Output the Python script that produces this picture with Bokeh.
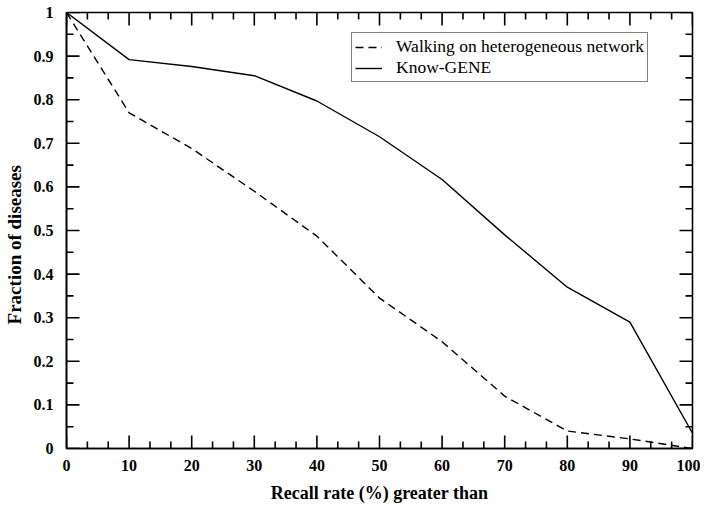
import numpy as np
from bokeh.plotting import figure
from bokeh.models import (LinearAxis, SingleIntervalTicker, Range1d, Legend, LegendItem,
                          CustomJSTickFormatter)
from bokeh.embed import file_html
from bokeh.resources import INLINE

recall = [0, 10, 20, 30, 40, 50, 60, 70, 80, 90, 100]
walking = [1.0, 0.77, 0.688, 0.59, 0.487, 0.345, 0.245, 0.12, 0.04, 0.022, 0.0]
know_gene = [1.0, 0.892, 0.876, 0.855, 0.797, 0.715, 0.617, 0.49, 0.37, 0.29, 0.035]
series_names = ["Walking on heterogeneous network", "Know-GENE"]
x_label = "Recall rate (%) greater than"
y_label = "Fraction of diseases"

X_MIN, X_MAX, X_STEP, X_MINOR = 0, 100, 10, 3
Y_MIN, Y_MAX, Y_STEP, Y_MINOR = 0.0, 1.0, 0.1, 2

FONT = "Liberation Serif"

p = figure(width=700, height=508, output_backend="svg", toolbar_location=None,
           x_range=Range1d(X_MIN, X_MAX), y_range=Range1d(Y_MIN, Y_MAX),
           min_border_left=66, min_border_right=8, min_border_top=12, min_border_bottom=60,
           x_axis_type=None, y_axis_type=None)
p.xgrid.visible = False
p.ygrid.visible = False
p.outline_line_color = "black"
p.outline_line_width = 1.6
p.background_fill_color = "white"
p.border_fill_color = "white"

def style(ax):
    ax.axis_line_width = 1.6
    ax.axis_line_color = "black"
    ax.major_tick_in = 0
    ax.major_tick_out = 0
    ax.minor_tick_in = 0
    ax.minor_tick_out = 0
    ax.major_label_text_font = FONT
    ax.major_label_text_font_style = "bold"
    ax.major_label_text_font_size = "16px"
    ax.major_label_text_color = "black"
    ax.axis_label_text_font = FONT
    ax.axis_label_text_font_style = "bold"
    ax.axis_label_text_color = "black"

xb = LinearAxis(ticker=SingleIntervalTicker(interval=X_STEP, num_minor_ticks=X_MINOR),
                axis_label=x_label)
style(xb)
xb.axis_label_text_font_size = "18px"
xb.major_label_standoff = 11
xb.axis_label_standoff = 9
p.add_layout(xb, "below")

yl = LinearAxis(ticker=SingleIntervalTicker(interval=Y_STEP, num_minor_ticks=Y_MINOR),
                axis_label=y_label + "\u00a0" * 6)
style(yl)
yl.axis_label_text_font_size = "19px"
yl.major_label_standoff = 13
yl.axis_label_standoff = 6
yl.formatter = CustomJSTickFormatter(code="return (Math.round(tick*10)/10).toString();")
p.add_layout(yl, "left")

# inward ticks on all four sides, drawn as screen-length rays from the frame edges
x_major = np.arange(X_MIN, X_MAX + X_STEP / 2, X_STEP)
x_all = np.arange(X_MIN, X_MAX + 1e-9, X_STEP / X_MINOR)
x_minor = np.array([v for v in x_all if not np.isclose(v / X_STEP, round(v / X_STEP))])
y_major = np.arange(Y_MIN, Y_MAX + Y_STEP / 2, Y_STEP)
y_minor = y_major[:-1] + Y_STEP / Y_MINOR

TICK_W = 1.6
for xs, ln in ((x_major, 13), (x_minor, 7)):
    p.ray(xs, [Y_MIN] * len(xs), length=ln, angle=np.pi / 2, length_units="screen",
          line_color="black", line_width=TICK_W)
    p.ray(xs, [Y_MAX] * len(xs), length=ln, angle=-np.pi / 2, length_units="screen",
          line_color="black", line_width=TICK_W)
for ys, ln in ((y_major, 13), (y_minor, 7)):
    p.ray([X_MIN] * len(ys), ys, length=ln, angle=0, length_units="screen",
          line_color="black", line_width=TICK_W)
    p.ray([X_MAX] * len(ys), ys, length=ln, angle=np.pi, length_units="screen",
          line_color="black", line_width=TICK_W)

r1 = p.line(recall, walking, line_color="black", line_width=1.4, line_dash="8 5")
r2 = p.line(recall, know_gene, line_color="black", line_width=1.4)

legend = Legend(items=[LegendItem(label=series_names[0], renderers=[r1]),
                       LegendItem(label=series_names[1], renderers=[r2])],
                location=(285, 366))
legend.label_text_font = FONT
legend.label_text_font_size = "17.5px"
legend.label_text_color = "black"
legend.border_line_color = "black"
legend.border_line_width = 1
legend.glyph_width = 27
legend.glyph_height = 14
legend.label_height = 14
legend.spacing = -3
legend.padding = 3
legend.margin = 0
legend.label_standoff = 14
legend.background_fill_alpha = 1
p.add_layout(legend, "center")

open("out.html", "w").write(file_html(p, INLINE))
